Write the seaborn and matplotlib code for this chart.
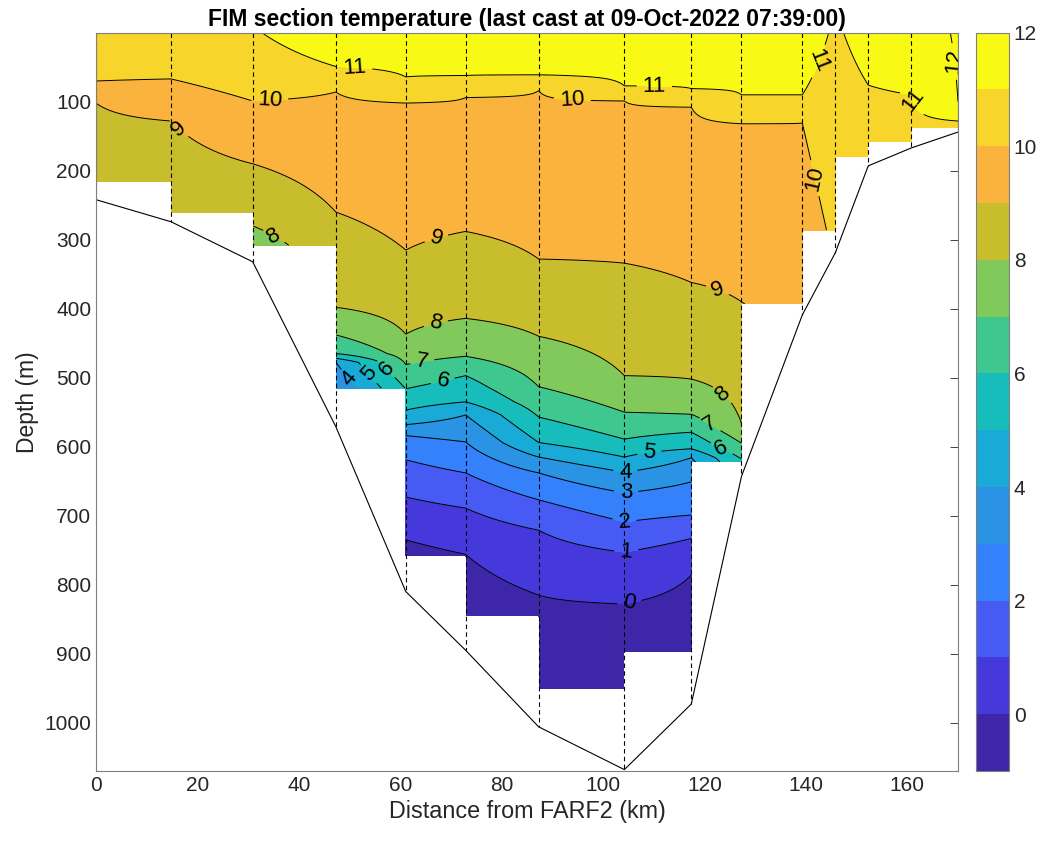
import numpy as np
import pandas as pd
import matplotlib
matplotlib.use("Agg")
import matplotlib.pyplot as plt
import seaborn as sns

# ---------------- data ----------------
station_km = [0.0, 14.8, 30.9, 47.3, 61.1, 72.9, 87.3, 104.2, 117.4, 127.3,
              139.3, 145.8, 152.3, 160.8, 170.0]
bathy_depth = [242, 274, 332, 571, 810, 895, 1006, 1068, 973, 643,
               409, 319, 193, 167, 144]
cast_depth = [215, 260, 308, 515, 758, 845, 950, 1000, 897, 622,
              393, 286, 180, 158, 137]

# temperature profile knots per station (depth m -> temperature degC)
profile_depths = [
    [0, 70, 102, 215],
    [0, 67, 128, 260],
    [0, 50, 99, 190, 280, 308],
    [0, 49, 86, 260, 398, 438, 465, 472, 478, 515],
    [0, 64, 102, 315, 437, 481, 516, 547, 568, 584, 619, 673, 735, 758],
    [0, 62, 94, 288, 414, 469, 497, 535, 554, 593, 638, 689, 756, 845],
    [0, 61, 84, 328, 440, 513, 557, 594, 615, 638, 677, 721, 815, 950],
    [0, 77, 99, 334, 497, 550, 589, 615, 637, 667, 709, 753, 828, 1000],
    [0, 81, 108, 362, 502, 553, 579, 603, 616, 651, 699, 733, 786, 897],
    [0, 90, 132, 390, 567, 595, 618, 622],
    [0, 90, 131, 393],
    [0, 286],
    [0, 76, 180],
    [0, 90, 158],
    [0, 100, 128, 137],
]
profile_temps = [
    [10.8, 10, 9, 8.4],
    [10.8, 10, 9, 8.3],
    [10.95, 10.7, 10, 9, 8, 7.5],
    [11.4, 11, 10, 9, 8, 7, 6, 5, 4, 3.1],
    [11.5, 11, 10, 9, 8, 7, 6, 5, 4, 3, 2, 1, 0, -0.3],
    [11.5, 11, 10, 9, 8, 7, 6, 5, 4, 3, 2, 1, 0, -0.6],
    [11.5, 11, 10, 9, 8, 7, 6, 5, 4, 3, 2, 1, 0, -0.6],
    [11.5, 11, 10, 9, 8, 7, 6, 5, 4, 3, 2, 1, 0, -0.6],
    [11.5, 11, 10, 9, 8, 7, 6, 5, 4, 3, 2, 1, 0, -0.6],
    [11.5, 11, 10, 9, 8, 7, 6, 5.9],
    [11.4, 11, 10, 9.3],
    [10.9, 10.15],
    [11.3, 11, 10.6],
    [11.5, 11, 10.7],
    [12.1, 12, 11, 10.95],
]

fill_levels = list(range(-1, 13))
line_levels = list(range(0, 13))
cbar_ticks = [0, 2, 4, 6, 8, 10, 12]
band_colors = ["#3d27a8", "#4639dc", "#475af4", "#3580fb", "#2a93e3",
               "#1aaad8", "#16bdbb", "#3ec78f", "#82c95c", "#c8be2d",
               "#fab33c", "#f7d52a", "#f9f916"]

title = "FIM section temperature (last cast at 09-Oct-2022 07:39:00)"
xlabel = "Distance from FARF2 (km)"
ylabel = "Depth (m)"

# ---------------- gridding ----------------
sk = np.array(station_km)
cd = np.array(cast_depth, dtype=float)
zg = np.linspace(0, 1070, 1071)
xg = np.linspace(0, 170, 1361)
prof = np.array([np.interp(zg, d, t) for d, t in zip(profile_depths, profile_temps)])
idx = np.clip(np.searchsorted(sk, xg, side="right") - 1, 0, len(sk) - 2)
f = (xg - sk[idx]) / (sk[idx + 1] - sk[idx])
T = (1 - f)[None, :] * prof[idx].T + f[None, :] * prof[idx + 1].T
bottom = np.minimum(cd[idx], cd[idx + 1])
T[zg[:, None] > bottom[None, :]] = np.nan
Tm = np.ma.masked_invalid(T)
Tfill = np.ma.minimum(Tm, 11.999)
X, Z = np.meshgrid(xg, zg)

# ---------------- plotting ----------------
sns.set_style("white")
plt.rcParams["font.family"] = ["Liberation Sans", "DejaVu Sans"]
axcol = "#262626"

fig = plt.figure(figsize=(10.43, 8.43), dpi=100)
ax = fig.add_axes([96 / 1043, 1 - 771 / 843, (958 - 96) / 1043, (771 - 32.7) / 843])

cf = ax.contourf(X, Z, Tfill, levels=fill_levels, colors=band_colors)
cs = ax.contour(X, Z, Tm, levels=line_levels, colors="k", linewidths=0.7)

# approximate spots where the contour labels sit (layout only)
label_spots = [(51.0, 51), (34.3, 100), (16.6, 137), (34.7, 300), (67.2, 300),
               (67.2, 427), (64.4, 479), (68.4, 505), (56.9, 489), (53.6, 496),
               (49.7, 503), (94.0, 90), (110.1, 80), (122.4, 377), (123.0, 529),
               (121.0, 569), (123.0, 608), (109.2, 612), (104.4, 637),
               (104.6, 670), (104.2, 709), (104.6, 753), (105.2, 826),
               (141.7, 211), (142.1, 40), (162.0, 97), (168.9, 42)]
ax.clabel(cs, fmt="%d", fontsize=16, inline=True, inline_spacing=6,
          manual=label_spots)

# station lines and bottom profile
ax.vlines(station_km, 0, bathy_depth, colors="k", linestyles=(0, (4, 3)), linewidth=0.8)
bathy_df = pd.DataFrame({"km": station_km, "depth": bathy_depth})
sns.lineplot(data=bathy_df, x="km", y="depth", sort=False, color="k",
             linewidth=0.8, ax=ax, estimator=None)

ax.set_xlim(0, 170)
ax.set_ylim(1070, 0)
ax.set_xticks(range(0, 161, 20))
ax.set_yticks(range(100, 1001, 100))
ax.tick_params(direction="in", top=True, right=True, length=6, width=0.6,
               labelsize=15, colors=axcol, labelcolor=axcol)
for s in ax.spines.values():
    s.set_color("#7f7f7f")
    s.set_linewidth(0.8)
ax.set_xlabel(xlabel, fontsize=16.8, color=axcol, labelpad=4)
ax.set_ylabel(ylabel, fontsize=16.5, color=axcol)
ax.set_title(title, fontsize=16.5, fontweight="bold", color="k", pad=5)

cax = fig.add_axes([976 / 1043, 1 - 771 / 843, 33 / 1043, (771 - 32.7) / 843])
cb = fig.colorbar(cf, cax=cax, ticks=cbar_ticks)
cb.ax.tick_params(direction="in", length=5, width=0.6, labelsize=15,
                  colors=axcol, labelcolor=axcol)
cb.outline.set_edgecolor("#7f7f7f")
cb.outline.set_linewidth(0.8)

fig.savefig("out.png", dpi=100)
